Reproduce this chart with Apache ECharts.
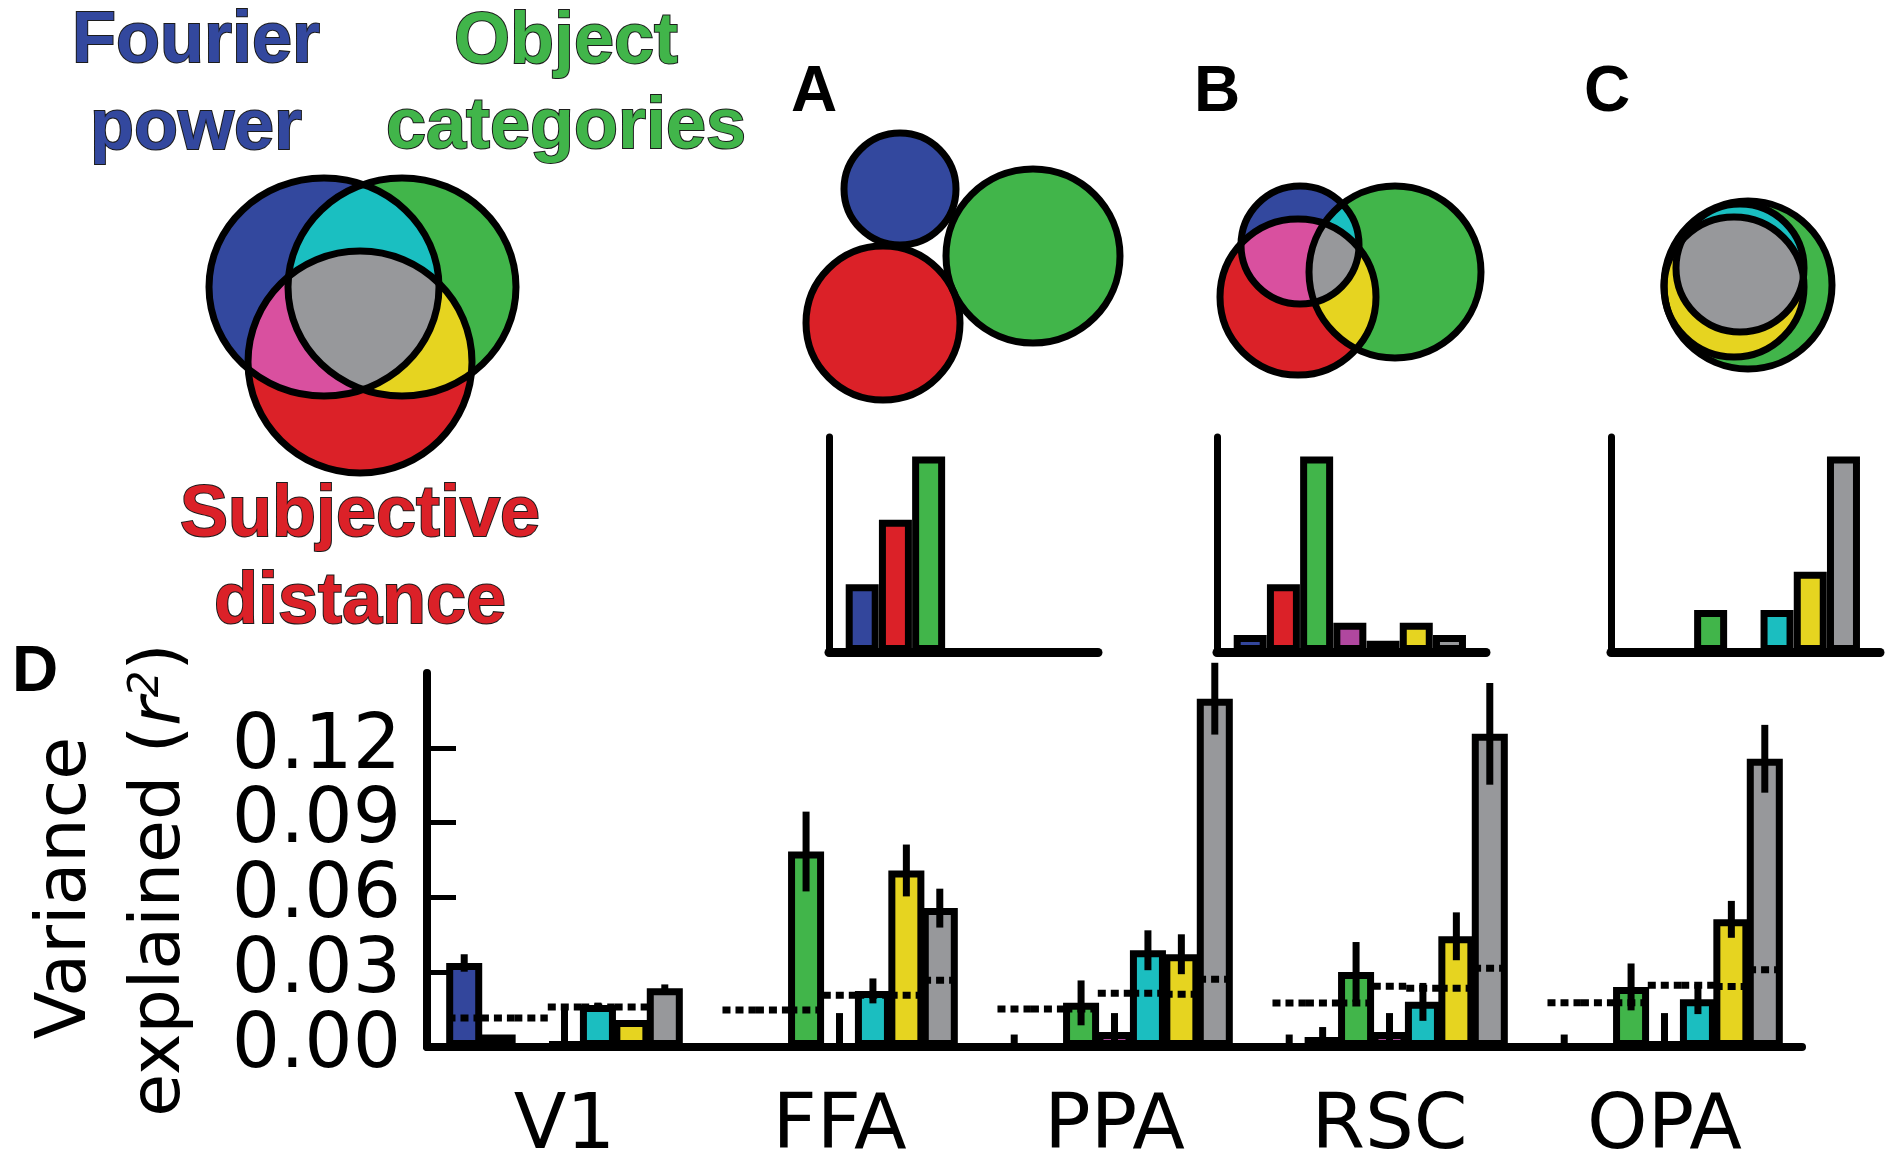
<!DOCTYPE html>
<html><head><meta charset="utf-8">
<script src="https://cdn.jsdelivr.net/npm/echarts@6/dist/echarts.min.js"></script>
<style>html,body{margin:0;padding:0;background:#fff}#c{width:1890px;height:1162px}</style>
</head><body><div id="c"></div>
<script>
// ---------------- DATA ----------------
const regions = ['V1', 'FFA', 'PPA', 'RSC', 'OPA'];
const partNames = ['Fourier power', 'Subjective distance', 'Object categories',
  'Fourier + distance', 'Fourier + object', 'Object + distance', 'All three'];
// variance explained (r^2) per region
const fourierVals   = [0.0337, 0, 0, 0, 0];
const distanceVals  = [0.005, 0, 0, 0.004, 0];
const objectVals    = [0, 0.0784, 0.0177, 0.0301, 0.0241];
const fdVals        = [0.002, 0, 0.006, 0.006, 0.002];
const foVals        = [0.0168, 0.0225, 0.0388, 0.0181, 0.0192];
const odVals        = [0.0108, 0.0708, 0.0372, 0.0444, 0.0512];
const allVals       = [0.0236, 0.0557, 0.1397, 0.1256, 0.1156];
// error bars (half length)
const fourierErr  = [0.0035, 0, 0.005, 0.005, 0.005];
const distanceErr = [0, 0, 0, 0.004, 0];
const objectErr   = [0, 0.016, 0.009, 0.012, 0.0094];
const fdErr       = [0.014, 0.0136, 0.0076, 0.0076, 0.0116];
const foErr       = [0.001, 0.005, 0.008, 0.0076, 0.006];
const odErr       = [0, 0.0104, 0.008, 0.0096, 0.0074];
const allErr      = [0.0015, 0.0078, 0.0144, 0.0204, 0.0136];
// significance thresholds (dotted lines), null = not drawn
const fourierThr  = [0.0116, 0.0148, 0.0152, 0.0176, 0.0177];
const distanceThr = [0.0116, 0.0148, 0.0152, 0.0176, 0.0177];
const objectThr   = [0.0116, 0.0148, 0.0152, 0.0176, 0.0177];
const fdThr       = [0.016, 0.0208, 0.0216, 0.0244, 0.0248];
const foThr       = [0.016, 0.0208, 0.0216, 0.0236, 0.0248];
const odThr       = [0.016, 0.0208, 0.0212, 0.0236, 0.0243];
const allThr      = [null, 0.0268, 0.0272, 0.0316, 0.031];
const yTicks = [0, 0.03, 0.06, 0.09, 0.12];
// schematic inset bar charts (relative units)
const insetSlots = [0, 1, 2, 3, 4, 5, 6];
const insetA = [0.347, 0.676, 1, 0, 0, 0, 0];
const insetB = [0.087, 0.347, 1, 0.150, 0.058, 0.150, 0.087];
const insetC = [0, 0, 0.215, 0, 0.215, 0.411, 1];
// Venn ellipses [cx, cy, rx, ry] in local diagram units, order: Fourier, distance, object
const vennMain = [[-38, -33, 115, 109], [-2, 42, 112, 111], [40, -33, 114, 109]];
const vennA = [[-60, -76, 56, 56], [-77, 58, 77, 77], [73, -9, 87, 87]];
const vennB = [[-30, -35, 59, 59], [-32, 17, 78, 78], [65, -8, 86, 86]];
const vennC = [[-5, -17, 64, 64], [-11, 2, 70, 70], [3, 0, 84, 84]];

// ---------------- STYLE ----------------
const barColors = ['#33469C', '#DB2128', '#41B54A', '#B0479F', '#1BBEC0', '#E6D420', '#97989B'];
const vc = { b: '#33489E', r: '#DB2128', g: '#41B54A', br: '#D9509F', bg: '#1ABFC1', rg: '#E6D420', all: '#97989B' };
const BAR_W = 0.131, BAR_GAP = -0.072;

const vals = [fourierVals, distanceVals, objectVals, fdVals, foVals, odVals, allVals];
const errs = [fourierErr, distanceErr, objectErr, fdErr, foErr, odErr, allErr];
const thrs = [fourierThr, distanceThr, objectThr, fdThr, foThr, odThr, allThr];

function slot(api, cat, s) {
  const band = api.size([1, 0])[0];
  const bw = band * BAR_W, step = bw * (1 + BAR_GAP);
  return { cx: api.coord([cat, 0])[0] + (s - 3) * step, step };
}

const errData = [], thrData = [];
regions.forEach((r, ci) => {
  for (let s = 0; s < 7; s++) {
    if (errs[s][ci] > 0) errData.push([ci, s, vals[s][ci], errs[s][ci]]);
    if (thrs[s][ci] != null) thrData.push([ci, s, thrs[s][ci]]);
  }
});

function vennRender(circles) {
  return function (params, api) {
    const pts = circles.map(c => {
      const p = api.coord([c[0], c[1]]);
      const sz = api.size([c[2], c[3]]);
      return { cx: p[0], cy: p[1], rx: sz[0], ry: sz[1] };
    });
    const [B, R, G] = pts;
    const shp = c => ({ cx: c.cx, cy: c.cy, rx: c.rx, ry: c.ry });
    const circ = (c, fill, extra) => Object.assign({ type: 'ellipse', shape: shp(c), style: { fill: fill } }, extra || {});
    const clip = c => ({ type: 'ellipse', shape: shp(c) });
    return {
      type: 'group', children: [
        circ(B, vc.b), circ(R, vc.r), circ(G, vc.g),
        circ(G, vc.bg, { clipPath: clip(B) }),
        circ(R, vc.br, { clipPath: clip(B) }),
        circ(R, vc.rg, { clipPath: clip(G) }),
        { type: 'group', clipPath: clip(B), children: [circ(G, vc.all, { clipPath: clip(R) })] },
        ...[B, R, G].map(c => ({ type: 'ellipse', shape: shp(c), style: { fill: 'none', stroke: '#000', lineWidth: 7 } }))
      ]
    };
  };
}

// ---------------- LAYOUT ----------------
const insetLefts = [829, 1217, 1611];
const vennOrigins = [[362, 320], [960, 265], [1330, 280], [1745, 285]];
const grids = [{ left: 427, top: 673, width: 1375, height: 374, outerBoundsMode: 'none' }];
insetLefts.forEach(l => grids.push({ left: l, top: 437, width: 269, height: 215, outerBoundsMode: 'none' }));
vennOrigins.forEach(o => grids.push({ left: o[0] - 100, top: o[1] - 100, width: 200, height: 200, outerBoundsMode: 'none' }));

const tickLabelStyle = { color: '#000', fontSize: 76, fontFamily: 'DejaVu Sans', margin: 26,
  showMinLabel: true, showMaxLabel: true, hideOverlap: false, formatter: v => v.toFixed(2) };
const evenTicks = yTicks.filter((t, i) => i % 2 === 0);
const oddTicks = yTicks.filter((t, i) => i % 2 === 1);

const xAxes = [{
  gridIndex: 0, type: 'category', data: regions,
  axisLine: { lineStyle: { color: '#000', width: 8 } }, axisTick: { show: false },
  axisLabel: { color: '#000', fontSize: 77, fontFamily: 'DejaVu Sans', margin: 42, interval: 0 }
}];
const yAxes = [{
  gridIndex: 0, type: 'value', min: 0, max: 0.15, position: 'left',
  axisLine: { show: true, lineStyle: { color: '#000', width: 8 } },
  axisTick: { show: true, inside: true, length: 29, lineStyle: { color: '#000', width: 5 }, customValues: evenTicks },
  axisLabel: Object.assign({ customValues: evenTicks }, tickLabelStyle),
  splitLine: { show: false }
}, {
  gridIndex: 0, type: 'value', min: 0, max: 0.15, position: 'left', offset: 0,
  axisLine: { show: false },
  axisTick: { show: true, inside: true, length: 29, lineStyle: { color: '#000', width: 5 }, customValues: oddTicks },
  axisLabel: Object.assign({ customValues: oddTicks }, tickLabelStyle),
  splitLine: { show: false }
}];
for (let i = 1; i <= 3; i++) {
  xAxes.push({ gridIndex: i, type: 'value', min: -1, max: 7.1,
    axisLine: { show: true, onZero: false, lineStyle: { color: '#000', width: 9 } },
    axisTick: { show: false }, axisLabel: { show: false }, splitLine: { show: false } });
  yAxes.push({ gridIndex: i, type: 'value', min: 0, max: 1.10,
    axisLine: { show: true, onZero: false, lineStyle: { color: '#000', width: 7 } },
    axisTick: { show: false }, axisLabel: { show: false }, splitLine: { show: false } });
}
for (let i = 4; i <= 7; i++) {
  xAxes.push({ gridIndex: i, type: 'value', min: -100, max: 100, show: false });
  yAxes.push({ gridIndex: i, type: 'value', min: -100, max: 100, inverse: true, show: false });
}
// y axis index offset: main uses 0 (and 1 for odd labels), insets 2..4, venns 5..8
const series = [];
vals.forEach((v, s) => series.push({
  type: 'bar', name: partNames[s], xAxisIndex: 0, yAxisIndex: 0, data: v,
  barWidth: (BAR_W * 100) + '%', barGap: (BAR_GAP * 100) + '%', z: 2,
  itemStyle: { color: barColors[s], borderColor: '#000', borderWidth: 7 }
}));
series.push({
  type: 'custom', xAxisIndex: 0, yAxisIndex: 0, data: thrData, encode: { x: 0, y: 2 }, z: 3, silent: true,
  renderItem: (params, api) => {
    const g = slot(api, api.value(0), api.value(1));
    const y = api.coord([api.value(0), api.value(2)])[1];
    return { type: 'line', shape: { x1: g.cx - g.step / 2, y1: y, x2: g.cx + g.step / 2, y2: y },
      style: { stroke: '#000', lineWidth: 7, lineDash: [8, 5] } };
  }
});
series.push({
  type: 'custom', xAxisIndex: 0, yAxisIndex: 0, data: errData, encode: { x: 0, y: 2 }, z: 4, silent: true,
  renderItem: (params, api) => {
    const c = api.value(0), v = api.value(2), e = api.value(3);
    const g = slot(api, c, api.value(1));
    const y1 = api.coord([c, v + e])[1], y2 = api.coord([c, Math.max(0, v - e)])[1];
    return { type: 'line', shape: { x1: g.cx, y1: y1, x2: g.cx, y2: y2 }, style: { stroke: '#000', lineWidth: 7 } };
  }
});
[insetA, insetB, insetC].forEach((d, k) => series.push({
  type: 'bar', xAxisIndex: k + 1, yAxisIndex: k + 2, barWidth: 33, z: 2,
  data: d.map((v, i) => ({ value: [insetSlots[i], v], itemStyle: { color: barColors[i] } })),
  itemStyle: { borderColor: '#000', borderWidth: 7 }
}));
[vennMain, vennA, vennB, vennC].forEach((circles, k) => series.push({
  type: 'custom', xAxisIndex: k + 4, yAxisIndex: k + 5, data: [[0, 0]], encode: { x: 0, y: 1 },
  clip: false, silent: true, renderItem: vennRender(circles)
}));

const lbl = (text, x, y, color) => ({ type: 'text', x: x, y: y, style: {
  text: text, fill: color, stroke: '#1c1c1c', lineWidth: 2,
  font: 'bold 72px "Liberation Sans", Arial, sans-serif', align: 'center', verticalAlign: 'middle' } });
const letter = (text, x, y, align) => ({ type: 'text', x: x, y: y, style: {
  text: text, fill: '#000', font: 'bold 64px "Liberation Sans", Arial, sans-serif', align: align || 'center', verticalAlign: 'middle' } });

const graphic = [
  lbl('Fourier', 196, 42, vc.b), lbl('power', 196, 129, vc.b),
  lbl('Object', 566, 43, vc.g), lbl('categories', 566, 128, vc.g),
  lbl('Subjective', 360, 516, vc.r), lbl('distance', 360, 603, vc.r),
  letter('A', 814, 93), letter('B', 1217, 93), letter('C', 1607, 93), letter('D', 12, 673, 'left'),
  { type: 'text', x: 67, y: 888, rotation: Math.PI / 2, style: {
      text: 'Variance', fill: '#000', font: '70px "DejaVu Sans"', align: 'center', verticalAlign: 'middle' } },
  { type: 'text', x: 161, y: 880, rotation: Math.PI / 2, style: {
      text: 'explained ({it|r}{sup|2})', fill: '#000', font: '70px "DejaVu Sans"', align: 'center', verticalAlign: 'middle',
      rich: { it: { fontSize: 70, fontFamily: 'DejaVu Sans', fontStyle: 'italic', fill: '#000' },
              sup: { fontSize: 42, fontFamily: 'DejaVu Sans', fontStyle: 'italic', verticalAlign: 'top', fill: '#000' } } } }
];

const chart = echarts.init(document.getElementById('c'), null, { renderer: 'canvas', width: 1890, height: 1162 });
chart.setOption({
  backgroundColor: '#fff', animation: false,
  grid: grids, xAxis: xAxes, yAxis: yAxes, series: series, graphic: graphic
});
</script></body></html>
